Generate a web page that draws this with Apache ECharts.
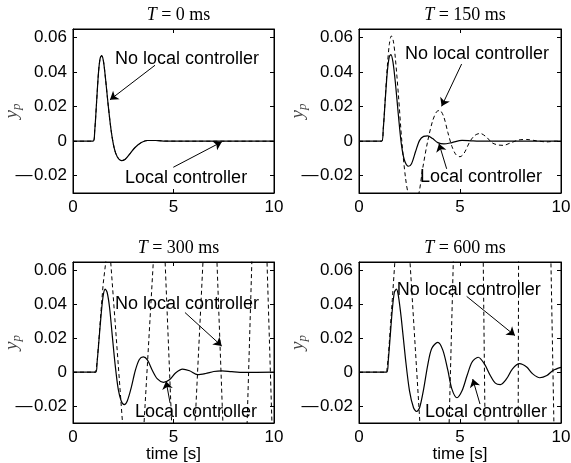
<!DOCTYPE html>
<html>
<head>
<meta charset="utf-8">
<script src="https://cdn.jsdelivr.net/npm/echarts@6/dist/echarts.min.js"></script>
<style>
  html, body { margin: 0; padding: 0; background: #fff; }
  #chart { width: 571px; height: 463px; }
</style>
</head>
<body>
<div id="chart"></div>
<script>
// delays shown in the panel titles (ms)
var delays = [0, 150, 300, 600];
var xTicks = [0, 5, 10];
var yTicks = [-0.02, 0, 0.02, 0.04, 0.06];

// T = 0 ms : both responses coincide
var t0Local = [[0,0],[1.0,0],[1.08,0.006],[1.17,0.022],[1.27,0.04],[1.35,0.048],[1.43,0.0496],[1.52,0.046],[1.62,0.036],
  [1.75,0.021],[1.9,0.006],[2.05,-0.004],[2.2,-0.009],[2.4,-0.0112],[2.6,-0.0104],[2.85,-0.007],[3.1,-0.0035],
  [3.4,-0.0008],[3.7,0.0004],[4.1,0.0004],[4.6,0.0001],[5.5,0],[10,0]];
var t0NoLocal = t0Local;

// T = 150 ms
var t150Local = [[0,0],[1.12,0],[1.2,0.007],[1.3,0.024],[1.4,0.04],[1.5,0.049],[1.58,0.0502],[1.68,0.046],[1.8,0.034],
  [1.95,0.015],[2.1,-0.002],[2.25,-0.011],[2.45,-0.0145],[2.6,-0.013],[2.8,-0.006],[3.0,0.0005],[3.2,0.0028],
  [3.4,0.0031],[3.65,0.0015],[3.9,-0.0008],[4.2,-0.0016],[4.6,-0.0008],[5.1,0.0005],[5.6,0.0002],[6.2,0],[10,0]];
var t150NoLocal = [[0,0],[1.12,0],[1.2,0.007],[1.3,0.025],[1.4,0.043],[1.5,0.056],[1.6,0.061],[1.7,0.058],[1.8,0.048],
  [1.95,0.027],[2.12,0],[2.3,-0.021],[2.45,-0.031],[2.7,-0.038],[2.95,-0.031],[3.15,-0.016],[3.4,0],[3.65,0.012],
  [3.85,0.0172],[4.0,0.0178],[4.2,0.014],[4.4,0.005],[4.6,-0.003],[4.8,-0.0078],[5.0,-0.009],[5.2,-0.007],[5.5,0],
  [5.75,0.0035],[6.0,0.0045],[6.3,0.0025],[6.6,-0.001],[6.9,-0.0022],[7.15,-0.0024],[7.5,-0.001],[7.9,0.0007],
  [8.3,0.001],[8.8,0.0002],[9.3,-0.0004],[9.7,0],[10,0]];

// T = 300 ms
var t300Local = [[0,0],[1.13,0],[1.2,0.006],[1.3,0.02],[1.4,0.034],[1.5,0.045],[1.6,0.049],[1.7,0.047],[1.82,0.038],
  [1.95,0.022],[2.1,0.004],[2.25,-0.01],[2.4,-0.017],[2.55,-0.0192],[2.7,-0.017],[2.9,-0.009],[3.1,0.001],[3.3,0.0075],
  [3.5,0.009],[3.7,0.0072],[3.95,0.001],[4.2,-0.004],[4.5,-0.006],[4.8,-0.0045],[5.1,-0.0005],[5.45,0.0018],
  [5.8,0.0008],[6.2,-0.0015],[6.6,-0.0008],[7.0,0.0004],[7.4,0.0008],[7.9,0.0003],[8.5,-0.0001],[10,0]];
var t300NoLocal = [[0,0],[1.13,0],[1.2,0.006],[1.3,0.021],[1.4,0.037],[1.5,0.052],[1.64,0.066],[1.75,0.075],[1.87,0.066],
  [2.47,-0.031],[3.0,-0.06],[3.53,-0.031],[4.0,0.066],[4.3,0.1],[4.58,0.066],[4.91,-0.031],[5.5,-0.12],[6.07,-0.031],
  [6.47,0.066],[6.8,0.15],[7.16,0.066],[7.46,-0.031],[8.06,-0.2],[8.66,-0.031],[8.9,0.066],[9.3,0.25],[9.65,0.066],
  [9.9,-0.031],[10,-0.06]];

// T = 600 ms
var t600Local = [[0,0],[1.37,0],[1.45,0.007],[1.55,0.022],[1.65,0.037],[1.75,0.047],[1.85,0.049],[1.95,0.045],[2.1,0.031],
  [2.3,0.008],[2.5,-0.011],[2.7,-0.021],[2.85,-0.0232],[3.0,-0.021],[3.2,-0.01],[3.4,0.004],[3.6,0.014],[3.9,0.0176],
  [4.15,0.013],[4.4,0.001],[4.6,-0.01],[4.85,-0.0151],[5.1,-0.011],[5.35,-0.002],[5.6,0.006],[5.9,0.0088],[6.2,0.005],
  [6.5,-0.002],[6.75,-0.0065],[7.0,-0.0073],[7.3,-0.004],[7.6,0.002],[7.95,0.005],[8.3,0.003],[8.6,-0.001],
  [8.95,-0.0033],[9.3,-0.002],[9.6,0.001],[10,0.0028]];
var t600NoLocal = [[0,0],[1.37,0],[1.45,0.009],[1.55,0.026],[1.65,0.043],[1.78,0.066],[2.15,0.1],[2.52,0.066],
  [3.02,-0.031],[3.74,-0.1],[4.46,-0.031],[4.67,0.066],[5.4,0.3],[6.15,0.066],[6.24,-0.031],[7.06,-0.4],
  [7.88,-0.031],[7.9,0.066],[8.7,0.5],[9.5,0.066],[9.65,-0.031],[10,-0.2]];

var localSeries = [t0Local, t150Local, t300Local, t600Local];
var noLocalSeries = [t0NoLocal, t150NoLocal, t300NoLocal, t600NoLocal];

// annotation placement (data coords): text left edge, arrow tail -> head
var notes = [
  { no: [2.09, 0.0476], noArrow: [[4.08, 0.044], [1.84, 0.024]], loc: [2.59, -0.0212], locArrow: [[4.99, -0.0151], [7.4, -0.0004]] },
  { no: [2.28, 0.0506], noArrow: [[5.08, 0.0447], [4.09, 0.0202]], loc: [3.02, -0.021], locArrow: [[4.34, -0.016], [3.96, -0.0014]] },
  { no: [2.09, 0.0402], noArrow: [[5.57, 0.0352], [7.4, 0.0154]], loc: [3.08, -0.0237], locArrow: [[4.83, -0.0182], [4.63, -0.0053]] },
  { no: [1.87, 0.0487], noArrow: [[5.33, 0.0447], [7.72, 0.0216]], loc: [3.27, -0.0235], locArrow: [[5.99, -0.0188], [5.63, -0.0041]] }
];

var grids = [
  { left: 73, top: 29, width: 201, height: 164 },
  { left: 359, top: 29, width: 202, height: 164 },
  { left: 73, top: 262, width: 201, height: 161 },
  { left: 359, top: 262, width: 202, height: 161 }
];

var sans = 'Liberation Sans, Arial, Helvetica, sans-serif';
var serif = 'Liberation Serif, Times New Roman, serif';

var myChart = echarts.init(document.getElementById('chart'), null, { renderer: 'canvas' });

var option = {
  animation: false,
  backgroundColor: '#fff',
  title: [],
  grid: [],
  xAxis: [],
  yAxis: [],
  series: []
};

function yFmt(v) {
  if (Math.abs(v) < 1e-9) return '0';
  var s = Math.abs(v).toFixed(2);
  return v < 0 ? '\u2014\u200a' + s : s;
}

for (var i = 0; i < 4; i++) {
  var g = grids[i];
  option.grid.push({
    left: g.left, top: g.top, width: g.width, height: g.height,
    containLabel: false, outerBoundsMode: 'none',
    show: true, borderColor: '#000', borderWidth: 1, backgroundColor: '#fff'
  });
  option.title.push({
    text: '{i|T} = ' + delays[i] + ' ms',
    left: g.left + g.width / 2,
    top: g.top - 28,
    textAlign: 'center',
    textStyle: {
      fontFamily: serif, fontSize: 18, fontWeight: 'normal', color: '#000',
      rich: { i: { fontFamily: serif, fontStyle: 'italic', fontSize: 18, color: '#000' } }
    }
  });
  var bottomRow = i >= 2;
  option.xAxis.push({
    type: 'value', gridIndex: i, min: 0, max: 10, interval: 5, position: 'bottom',
    axisLine: { show: true, onZero: false, lineStyle: { color: '#000', width: 1 } },
    axisTick: { show: true, inside: true, length: 4, lineStyle: { color: '#000' } },
    axisLabel: { show: true, margin: 6, fontFamily: sans, fontSize: 17, color: '#000', customValues: xTicks },
    splitLine: { show: false },
    name: bottomRow ? 'time [s]' : '',
    nameLocation: 'middle', nameGap: 23, nameMoveOverlap: false,
    nameTextStyle: { fontFamily: sans, fontSize: 17, color: '#000' }
  });
  option.xAxis.push({
    type: 'value', gridIndex: i, min: 0, max: 10, interval: 5, position: 'top',
    axisLine: { show: true, onZero: false, lineStyle: { color: '#000', width: 1 } },
    axisTick: { show: true, inside: true, length: 4, lineStyle: { color: '#000' } },
    axisLabel: { show: false }, splitLine: { show: false }
  });
  option.yAxis.push({
    type: 'value', gridIndex: i, min: -0.03, max: 0.065, position: 'left',
    axisLine: { show: true, onZero: false, lineStyle: { color: '#000', width: 1 } },
    axisTick: { show: true, inside: true, length: 4, lineStyle: { color: '#000' }, customValues: yTicks },
    axisLabel: { show: true, margin: 6, fontFamily: sans, fontSize: 17, color: '#000', customValues: yTicks, formatter: yFmt },
    splitLine: { show: false },
    name: '{y|y}{p|p}',
    nameLocation: 'middle', nameGap: 50, nameMoveOverlap: false,
    nameTextStyle: {
      color: '#444',
      rich: {
        y: { fontFamily: serif, fontStyle: 'italic', fontSize: 19, color: '#444' },
        p: { fontFamily: serif, fontStyle: 'italic', fontSize: 13, color: '#444', padding: [9, 0, 0, 0] }
      }
    }
  });
  option.yAxis.push({
    type: 'value', gridIndex: i, min: -0.03, max: 0.065, position: 'right',
    axisLine: { show: true, onZero: false, lineStyle: { color: '#000', width: 1 } },
    axisTick: { show: true, inside: true, length: 4, lineStyle: { color: '#000' }, customValues: yTicks },
    axisLabel: { show: false }, splitLine: { show: false }
  });

  var n = notes[i];
  var txt = { show: true, position: 'right', distance: 0, formatter: '{b}', fontFamily: sans, fontSize: 18, color: '#000' };

  option.series.push({
    type: 'line', xAxisIndex: 2 * i, yAxisIndex: 2 * i,
    data: noLocalSeries[i], showSymbol: false, symbol: 'none', clip: true,
    smooth: i < 2 ? 0.3 : false,
    lineStyle: { color: '#000', width: 1, type: [4, 3] },
    z: 3
  });
  option.series.push({
    type: 'line', xAxisIndex: 2 * i, yAxisIndex: 2 * i,
    data: localSeries[i], showSymbol: false, symbol: 'none', clip: true, smooth: 0.3,
    lineStyle: { color: '#000', width: 1.2 },
    z: 4,
    markLine: {
      silent: true, symbol: ['none', 'arrow'], symbolSize: 8,
      lineStyle: { color: '#000', width: 1, type: 'solid' },
      label: { show: false },
      emphasis: { disabled: true },
      data: [
        [{ coord: n.noArrow[0] }, { coord: n.noArrow[1] }],
        [{ coord: n.locArrow[0] }, { coord: n.locArrow[1] }]
      ]
    },
    markPoint: {
      silent: true, symbol: 'circle', symbolSize: 0,
      label: txt,
      data: [
        { name: 'No local controller', coord: n.no },
        { name: 'Local controller', coord: n.loc }
      ]
    }
  });
}

myChart.setOption(option);
</script>
</body>
</html>
